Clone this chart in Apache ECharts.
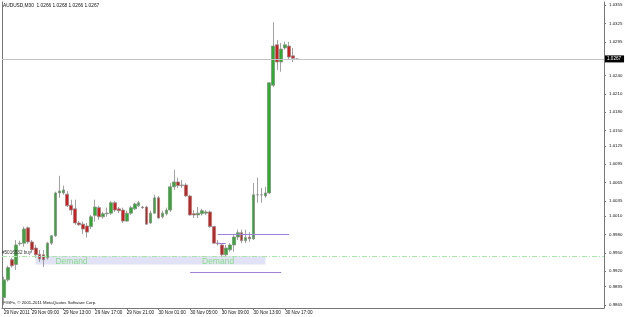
<!DOCTYPE html>
<html><head><meta charset="utf-8">
<script src="https://cdn.jsdelivr.net/npm/echarts@6/dist/echarts.min.js"></script>
<style>html,body{margin:0;padding:0;background:#fff}#c{width:625px;height:317px}</style>
</head><body><div id="c"></div>
<script>
// ---- data ----
const titleText = 'AUDUSD,M30  1.0266 1.0268 1.0266 1.0267';
const copyrightText = 'FIGFx, \u00a9 2001-2011 MetaQuotes Software Corp.';
const barCount = 152; // visible slots on the time axis (M30)
const firstBar = [2011, 10, 29, 5, 30]; // 29 Nov 2011 05:30
const opens = [0.9877,0.9906,0.9939,0.9931,0.9965,0.9966,0.9991,0.9968,0.9958,0.9948,
0.9947,0.9942,0.9966,0.9978,1.0048,1.0048,1.0046,1.0028,1.0022,0.9999,
0.9997,0.9994,0.9993,1.0011,1.0024,1.0009,1.0014,1.0015,1.0032,1.0022,
1.0020,1.0002,1.0015,1.0022,1.0027,1.0025,1.0025,0.9999,1.0015,1.0040,
1.0009,1.0014,1.0020,1.0058,1.0066,1.0061,1.0061,1.0043,1.0014,1.0012,
1.0014,1.0015,1.0017,0.9993,0.9966,0.9963,0.9947,0.9955,0.9963,0.9976,
0.9983,0.9970,0.9976,0.9973,1.0045,1.0045,1.0043,1.0048,1.0224,1.0290,
1.0262,1.0285,1.0288,1.0272,1.0266];
const closes = [0.9906,0.9926,0.9929,0.9963,0.9966,0.9989,0.9968,0.9955,0.9947,0.9940,
0.9939,0.9966,0.9978,1.0048,1.0051,1.0053,1.0027,1.0020,0.9999,0.9996,
0.9989,0.9984,1.0009,1.0025,1.0009,1.0014,1.0015,1.0032,1.0020,1.0019,
1.0002,1.0015,1.0024,1.0030,1.0032,1.0024,0.9997,1.0015,1.0040,1.0007,
1.0015,1.0020,1.0058,1.0066,1.0060,1.0060,1.0043,1.0012,1.0012,1.0015,
1.0019,1.0017,0.9993,0.9966,0.9965,0.9947,0.9958,0.9963,0.9976,0.9983,
0.9970,0.9975,0.9973,1.0045,1.0045,1.0045,1.0048,1.0228,1.0288,1.0262,
1.0283,1.0290,1.0270,1.0268,1.0267];
const lows = [0.9865,0.9903,0.9926,0.9922,0.9962,0.9960,0.9965,0.9950,0.9942,0.9935,
0.9927,0.9939,0.9963,0.9976,1.0040,1.0045,1.0025,1.0012,0.9996,0.9994,
0.9981,0.9975,0.9989,1.0001,1.0004,1.0006,1.0009,1.0012,1.0017,1.0015,
0.9999,1.0001,1.0012,1.0020,1.0025,1.0022,0.9996,0.9997,1.0014,1.0006,
1.0006,1.0011,1.0017,1.0053,1.0056,1.0056,1.0042,1.0011,1.0007,1.0007,
1.0011,1.0012,0.9991,0.9965,0.9962,0.9944,0.9944,0.9952,0.9952,0.9971,
0.9966,0.9966,0.9968,0.9971,1.0032,1.0032,1.0040,1.0046,1.0221,1.0249,
1.0246,1.0282,1.0265,1.0262,1.0266];
const highs = [0.9911,0.9929,0.9942,0.9971,0.9970,0.9993,0.9993,0.9971,0.9963,0.9955,
0.9955,0.9968,0.9979,1.0050,1.0076,1.0060,1.0051,1.0037,1.0037,1.0002,
1.0001,0.9999,1.0012,1.0037,1.0027,1.0017,1.0024,1.0035,1.0035,1.0025,
1.0024,1.0019,1.0027,1.0032,1.0035,1.0027,1.0027,1.0019,1.0045,1.0043,
1.0019,1.0024,1.0064,1.0086,1.0073,1.0069,1.0064,1.0045,1.0020,1.0025,
1.0022,1.0020,1.0019,0.9994,0.9971,0.9966,0.9963,0.9966,0.9979,0.9988,
0.9988,0.9988,0.9984,1.0064,1.0073,1.0056,1.0058,1.0229,1.0327,1.0298,
1.0293,1.0295,1.0295,1.0285,1.0268];
const yTickValues = [0.9865,0.9895,0.9920,0.9950,0.9980,1.0010,1.0035,1.0065,1.0095,1.0125,
1.0150,1.0180,1.0210,1.0240,1.0295,1.0325,1.0355];
const currentPrice = 1.0267;
const orderPrice = 0.9945;
const orderLabel = '#5016532 buy';
const demandTop = 0.9945, demandBottom = 0.9931;
const demandFromBar = 8, demandToBar = 66;
const demandLabels = ['Demand', 'Demand'];
const demandLabelBars = [13, 50];
const demandLabelPrice = 0.99365;
const purpleLevels = [0.9980, 0.9919, 0.9965];
const purpleFrom = [54, 47, 54];
const purpleTo = [72, 70, 56];

// ---- build ----
const months = ['Jan','Feb','Mar','Apr','May','Jun','Jul','Aug','Sep','Oct','Nov','Dec'];
const t0 = Date.UTC(firstBar[0], firstBar[1], firstBar[2], firstBar[3], firstBar[4]);
const pad = n => (n < 10 ? '0' : '') + n;
const categories = [], catInfo = [];
for (let i = 0; i < barCount; i++) {
  const d = new Date(t0 + i * 1800000);
  catInfo.push(d);
  categories.push(d.getUTCDate() + ' ' + months[d.getUTCMonth()] + ' ' + pad(d.getUTCHours()) + ':' + pad(d.getUTCMinutes()));
}
const lastBar = opens.length - 1;
const showLabel = (idx) => {
  if (idx > lastBar) return false;
  if (idx === 0) return true;
  const d = catInfo[idx];
  return d.getUTCMinutes() === 0 && d.getUTCHours() % 4 === 1;
};
const candles = opens.map((o, i) => [o, closes[i], lows[i], highs[i]]);

const chart = echarts.init(document.getElementById('c'), null, {renderer: 'canvas'});
const FONT = 'Liberation Sans';
const levelLines = [
  {yAxis: currentPrice, lineStyle: {color: '#c4c4c4', width: 1, type: 'solid'},
   label: {show: true, position: 'end', distance: 1, formatter: currentPrice.toFixed(4),
     backgroundColor: '#000', color: '#fff', fontSize: 4.6, fontFamily: FONT, padding: [1, 3, 1, 2]}},
  {yAxis: orderPrice, lineStyle: {color: '#a6e6a6', width: 1, type: [5, 2, 1, 2]},
   label: {show: true, position: 'insideStartTop', distance: [0, 1], formatter: orderLabel,
     color: '#333', fontSize: 4.6, fontFamily: FONT}}
];
const segLines = purpleLevels.map((lv, k) => [
  {coord: [purpleFrom[k], lv], lineStyle: {color: '#9f7fd8', width: 1, type: 'solid'}, label: {show: false}},
  {coord: [purpleTo[k], lv]}
]);
// price-scale labels, placed on the value axis through its own scale
const priceScaleLabels = yTickValues.map(v => ({
  coord: [barCount - 1, v], value: v,
  label: {show: true, formatter: v.toFixed(4), position: 'right', distance: 7,
    fontSize: 4.4, fontFamily: FONT, color: '#111'}
}));

chart.setOption({
  animation: false,
  backgroundColor: '#ffffff',
  grid: {left: 2, right: 21, top: 2, bottom: 9, containLabel: false},
  xAxis: {
    type: 'category', data: categories, boundaryGap: true,
    axisLine: {show: true, lineStyle: {color: '#777', width: 1}},
    axisTick: {show: true, interval: (i) => showLabel(i), length: 2, alignWithLabel: true, lineStyle: {color: '#777'}},
    axisLabel: {
      interval: (i) => showLabel(i), align: 'left', margin: 2, fontSize: 4.6, fontFamily: FONT, color: '#111',
      formatter: (v, i) => i === 0 ? catInfo[0].getUTCDate() + ' ' + months[catInfo[0].getUTCMonth()] + ' ' + catInfo[0].getUTCFullYear() : v
    },
    splitLine: {show: false}
  },
  yAxis: [{
    type: 'value', position: 'right', min: 0.9860, max: 1.0360,
    axisLine: {show: true, lineStyle: {color: '#777', width: 1}},
    axisTick: {show: true, length: 2, customValues: yTickValues, lineStyle: {color: '#777'}},
    axisLabel: {show: false},
    splitLine: {show: false}
  }, {
    type: 'value', position: 'left', min: 0.9860, max: 1.0360,
    axisLine: {show: true, lineStyle: {color: '#777', width: 1}},
    axisTick: {show: false}, axisLabel: {show: false}, splitLine: {show: false}
  }],
  series: [{
    type: 'line', data: [], yAxisIndex: 0, silent: true,
    markLine: {silent: true, precision: 4, symbol: ['none', 'none'], data: levelLines},
    markPoint: {silent: true, symbol: 'rect', symbolSize: 0, data: priceScaleLabels}
  }, {
    type: 'candlestick', data: candles, barWidth: 3.2,
    itemStyle: {color: '#22b422', color0: '#e21616', borderColor: '#8a8a8a', borderColor0: '#8a8a8a', borderWidth: 0.8},
    markArea: {silent: true, itemStyle: {color: '#e2e2f6', opacity: 1},
      data: [[{xAxis: demandFromBar, yAxis: demandTop}, {xAxis: demandToBar, yAxis: demandBottom}]]},
    markLine: {silent: true, precision: 4, symbol: ['none', 'none'], data: segLines},
    markPoint: {silent: true, symbol: 'rect', symbolSize: 0,
      data: demandLabels.map((t, k) => ({coord: [demandLabelBars[k], demandLabelPrice], value: t,
        label: {show: true, formatter: t, position: 'right', distance: 0, color: '#86de86', fontSize: 8.5, fontFamily: FONT}}))}
  }],
  graphic: [
    {type: 'text', left: 3, top: 3, style: {text: titleText, fontSize: 4.8, fontFamily: FONT, fill: '#111'}},
    {type: 'text', left: 3, top: 301, style: {text: copyrightText, fontSize: 4.3, fontFamily: FONT, fill: '#111'}}
  ]
});
</script>
</body></html>
